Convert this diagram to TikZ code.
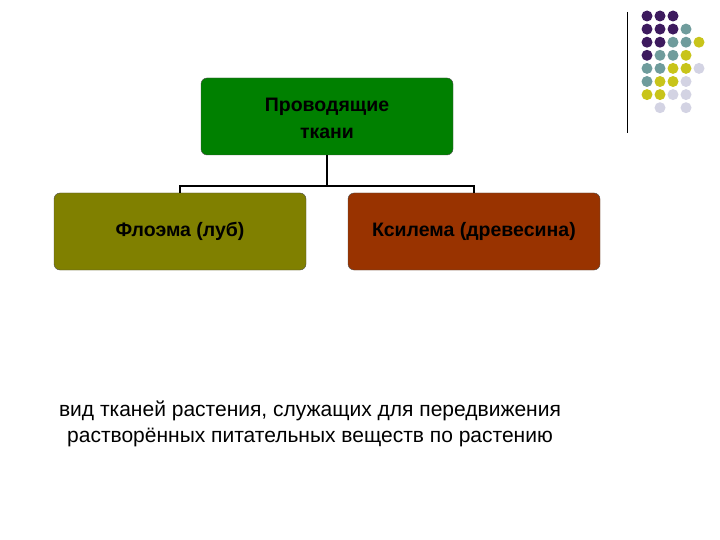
\documentclass[tikz,border=0pt]{standalone}
\usepackage{fontspec}
\setmainfont{Liberation Sans}
\definecolor{pp}{HTML}{3D1A5E}
\definecolor{tt}{HTML}{6F9C9C}
\definecolor{yy}{HTML}{C8C41A}
\definecolor{ll}{HTML}{D3D3E3}
\definecolor{gbox}{HTML}{008000}
\definecolor{obox}{HTML}{808000}
\definecolor{rbox}{HTML}{993300}
\begin{document}
\begin{tikzpicture}[x=1pt,y=-1pt,
 box/.style={draw=black!70,rounded corners=6pt,minimum width=252pt,minimum height=77pt,align=center,font=\fontsize{19.5}{27}\selectfont\bfseries},
 dot/.style={circle,inner sep=0pt,minimum size=11pt}]
\useasboundingbox (0,0) rectangle (720,540);
\node[box,fill=gbox] (top) at (327,116.5) {};
\node[align=center,font=\fontsize{19.5}{27}\selectfont\bfseries] (toptxt) at (327,118) {Проводящие\\ткани};
\node[box,fill=obox] (left) at (180,231.5) {Флоэма (луб)};
\node[box,fill=rbox] (right) at (474,231.5) {Ксилема (древесина)};
\coordinate (j) at (327,186);
\draw[line width=1.3pt] (top.south) -- (j);
\draw[line width=1.3pt] (left.north) |- (j) -| (right.north);
\node[align=center,font=\fontsize{21}{26}\selectfont] (txt) at (310,424) {вид тканей растения, служащих для передвижения\\растворённых питательных веществ по растению};
\draw[line width=1pt] (627,12) -- (627,133);
\foreach \r/\lst in {0/{pp,pp,pp},1/{pp,pp,pp,tt},2/{pp,pp,tt,tt,yy},3/{pp,tt,tt,yy},4/{tt,tt,yy,yy,ll},5/{tt,yy,yy,ll},6/{yy,yy,ll,ll},7/{white,ll,white,ll}}{
 \foreach \c [count=\i from 0] in \lst {
  \node[dot,fill=\c] (d\r\i) at (647+13*\i,16+13.1*\r) {};
 }
}
\end{tikzpicture}
\end{document}
